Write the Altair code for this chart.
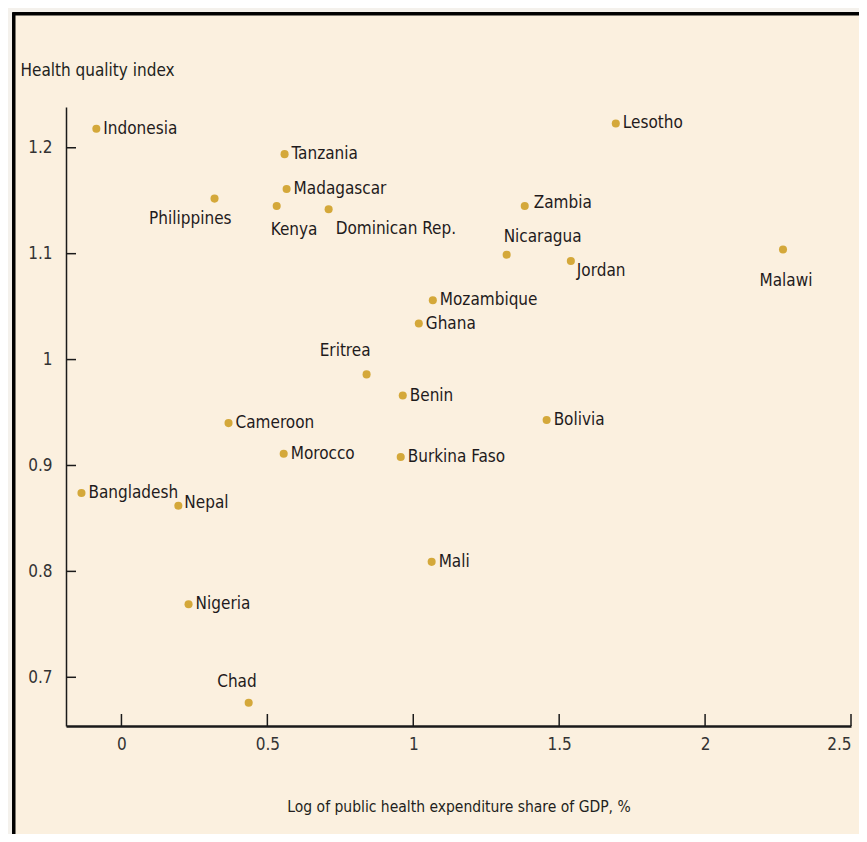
import altair as alt
import pandas as pd

countries = ["Indonesia", "Lesotho", "Tanzania", "Madagascar", "Kenya", "Dominican Rep.",
             "Philippines", "Zambia", "Nicaragua", "Jordan", "Malawi", "Mozambique",
             "Ghana", "Eritrea", "Benin", "Bolivia", "Cameroon", "Morocco",
             "Burkina Faso", "Bangladesh", "Nepal", "Mali", "Nigeria", "Chad"]
log_expenditure = [-0.086, 1.694, 0.559, 0.566, 0.532, 0.710,
                   0.319, 1.382, 1.320, 1.540, 2.267, 1.067,
                   1.019, 0.840, 0.964, 1.457, 0.367, 0.556,
                   0.957, -0.137, 0.195, 1.063, 0.230, 0.436]
health_index = [1.218, 1.223, 1.194, 1.161, 1.145, 1.142,
                1.152, 1.145, 1.099, 1.093, 1.104, 1.056,
                1.034, 0.986, 0.966, 0.943, 0.940, 0.911,
                0.908, 0.874, 0.862, 0.809, 0.769, 0.676]
x_ticks = [0, 0.5, 1, 1.5, 2, 2.5]
y_ticks = [0.7, 0.8, 0.9, 1.0, 1.1, 1.2]

df = pd.DataFrame({"country": countries, "x": log_expenditure, "y": health_index})
xt = pd.DataFrame({"t": x_ticks})
yt = pd.DataFrame({"t": y_ticks})

FONT = "Liberation Sans Narrow, 'DejaVu Sans Condensed', 'Roboto Condensed', sans-serif"
W, H = 785, 619
xscale = alt.Scale(domain=[-0.19, 2.5], nice=False, zero=False)
yscale = alt.Scale(domain=[0.654, 1.2385], nice=False, zero=False)

# label placement (layout only): (align, dx, dy) -> countries
placements = [
    (("left", 7, 0), ["Indonesia", "Lesotho", "Tanzania", "Madagascar", "Mozambique", "Ghana",
                      "Benin", "Bolivia", "Cameroon", "Morocco", "Burkina Faso", "Bangladesh",
                      "Mali", "Nigeria"]),
    (("left", 9, -3), ["Zambia"]),
    (("left", 6, -3), ["Nepal"]),
    (("left", 6, 10), ["Jordan"]),
    (("right", 17, 20), ["Philippines"]),
    (("left", -6, 24), ["Kenya"]),
    (("left", 7, 20), ["Dominican Rep."]),
    (("left", -3, -18), ["Nicaragua"]),
    (("center", 3, 32), ["Malawi"]),
    (("right", 4, -23), ["Eritrea"]),
    (("right", 8, -21), ["Chad"]),
]

base = alt.Chart(df)

frame = alt.Chart(xt).mark_rect(fill="#fbf0df", stroke="#000000", strokeWidth=3, clip=False).encode(
    x=alt.value(-52), x2=alt.value(W + 400), y=alt.value(-93), y2=alt.value(H + 400)
)

points = base.mark_circle(size=65, color="#d4a83a", opacity=1).encode(
    x=alt.X("x:Q", scale=xscale,
            axis=alt.Axis(title="Log of public health expenditure share of GDP, %",
                          values=x_ticks, ticks=False, labelExpr="datum.value",
                          domainColor="#1a1a1a", domainWidth=2.5, labelPadding=10,
                          titlePadding=47, titleFontSize=15.5, zindex=2)),
    y=alt.Y("y:Q", scale=yscale,
            axis=alt.Axis(title="Health quality index", values=y_ticks, ticks=False,
                          labelExpr="datum.value", domainColor="#1a1a1a", domainWidth=1.5,
                          labelPadding=14, titleAngle=0, titleAlign="left",
                          titleBaseline="middle", titleX=-46, titleY=-37, zindex=2)),
)

label_layers = []
for (align, dx, dy), names in placements:
    label_layers.append(
        base.transform_filter(alt.FieldOneOfPredicate(field="country", oneOf=names))
        .mark_text(align=align, baseline="middle", dx=dx, dy=dy, font=FONT, fontSize=17,
                   color="#1f1b1c")
        .encode(x=alt.X("x:Q", scale=xscale), y=alt.Y("y:Q", scale=yscale), text="country:N")
    )

xtick_rules = alt.Chart(xt).mark_rule(color="#1a1a1a", strokeWidth=1.5).encode(
    x=alt.X("t:Q", scale=xscale), y=alt.value(H), y2=alt.value(H - 12)
)
ytick_rules = alt.Chart(yt).mark_rule(color="#1a1a1a", strokeWidth=1.5).encode(
    y=alt.Y("t:Q", scale=yscale), x=alt.value(0), x2=alt.value(10)
)

chart = alt.layer(frame, points, xtick_rules, ytick_rules, *label_layers).properties(
    width=W, height=H,
    autosize=alt.AutoSizeParams(type="none"),
    padding={"left": 58, "top": 99, "right": 8, "bottom": 108},
    background="#f4f1ec",
).configure_view(strokeWidth=0).configure_axis(
    labelFont=FONT, labelFontSize=17, labelColor="#333333",
    titleFont=FONT, titleFontSize=17, titleColor="#231f20", titleFontWeight="normal",
    grid=False,
)

chart.save("out.html", embed_options={"renderer": "svg", "actions": False})
